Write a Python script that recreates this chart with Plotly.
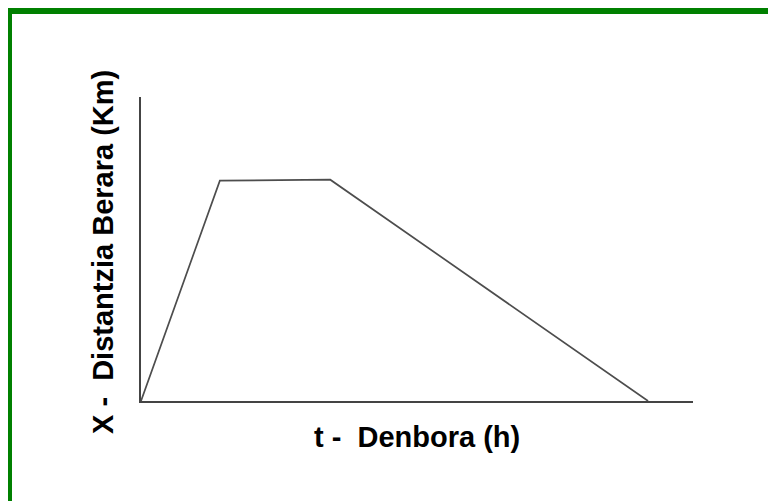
import plotly.graph_objects as go

# Data (time in hours, distance in km)
time_h = [0, 1, 2.4, 6.43]
distance_km = [0, 7.25, 7.28, 0]

x_title = "t -  Denbora (h)"
y_title = "X -  Distantzia Berara (Km)"

W, H = 776, 501
OFF = 8  # page body margin
PL, PR, PT, PB = 141, 693, 97, 401  # plot area in reference pixels
pw, ph = PR - PL, PB - PT
L, T = PL - OFF, PT - OFF
R, B = W - L - pw, H - T - ph

def px(x):
    return (x - PL) / pw

def py(y):
    return (PB - y) / ph

fig = go.Figure()
fig.add_trace(go.Scatter(
    x=time_h, y=distance_km, mode="lines",
    line=dict(color="#4d4d4d", width=1.7),
    hoverinfo="skip", showlegend=False,
))

font = dict(family="Liberation Sans, Arial, sans-serif", size=29, color="#000000")

fig.update_layout(
    width=W, height=H,
    margin=dict(l=L, r=R, t=T, b=B),
    paper_bgcolor="white", plot_bgcolor="white",
    xaxis=dict(range=[0, 7], showgrid=False, zeroline=False, showticklabels=False,
               ticks="", showline=True, linecolor="#444444", linewidth=2, fixedrange=True),
    yaxis=dict(range=[0, 10], showgrid=False, zeroline=False, showticklabels=False,
               ticks="", showline=True, linecolor="#444444", linewidth=2, fixedrange=True),
    annotations=[
        dict(text="<b>" + x_title + "</b>", xref="paper", yref="paper",
             x=px(417), y=py(437), xanchor="center", yanchor="middle",
             showarrow=False, font=font),
        dict(text="<b>" + y_title + "</b>", xref="paper", yref="paper",
             x=px(103), y=py(252), xanchor="center", yanchor="middle",
             textangle=-90, showarrow=False, font=font),
    ],
    shapes=[
        dict(type="rect", xref="paper", yref="paper",
             x0=px(9), x1=px(800), y0=py(11), y1=py(530),
             line=dict(color="#008000", width=6), fillcolor="rgba(0,0,0,0)", layer="above"),
    ],
)

fig.write_html("out.html")
